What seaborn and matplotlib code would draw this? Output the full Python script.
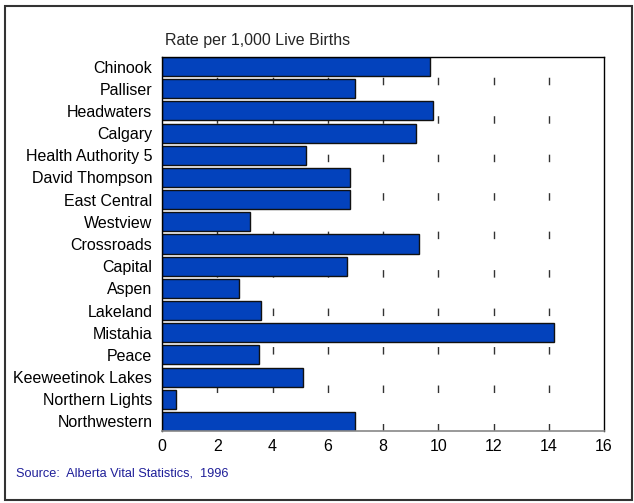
import numpy as np
import matplotlib
matplotlib.use("Agg")
import matplotlib.pyplot as plt
import seaborn as sns
from matplotlib.patches import Rectangle

regions = ["Chinook", "Palliser", "Headwaters", "Calgary", "Health Authority 5",
           "David Thompson", "East Central", "Westview", "Crossroads", "Capital",
           "Aspen", "Lakeland", "Mistahia", "Peace", "Keeweetinok Lakes",
           "Northern Lights", "Northwestern"]
rates = [9.7, 7.0, 9.8, 9.2, 5.2, 6.8, 6.8, 3.2, 9.3, 6.7,
         2.8, 3.6, 14.2, 3.5, 5.1, 0.5, 7.0]
xticks = [0, 2, 4, 6, 8, 10, 12, 14, 16]

sns.set_style("white")
plt.rcParams['font.family'] = ['Liberation Sans', 'DejaVu Sans']

fig = plt.figure(figsize=(6.34, 5.03), dpi=100)
ax = fig.add_axes([162/634, 1 - 431/503, (604 - 162)/634, (431 - 57)/503])

sns.barplot(x=rates, y=regions, orient="h", color="#0342BC", saturation=1,
            edgecolor="#111111", linewidth=1, width=0.86, ax=ax)

# dashed vertical grid
for xv in xticks[1:-1]:
    ax.axvline(xv, color="#333333", lw=1, linestyle=(0, (5.4, 22.3)), zorder=0)

ax.set_xlim(0, 16)
ax.set_ylim(16.43, -0.43)
ax.set_xticks(xticks)
ax.set_xticklabels([str(v) for v in xticks])
ax.tick_params(axis="both", length=0, labelsize=11.5, colors="black")
ax.tick_params(axis="y", pad=7)
ax.tick_params(axis="x", pad=6)
ax.set_xlabel("")
ax.set_ylabel("")
for side in ["top", "right", "left"]:
    ax.spines[side].set_visible(True)
    ax.spines[side].set_color("black")
    ax.spines[side].set_linewidth(1)
ax.spines["bottom"].set_color("#888888")
ax.spines["bottom"].set_linewidth(1.2)

fig.text(165/634, 1 - 41/503, "Rate per 1,000 Live Births", fontsize=11.5,
         ha="left", va="center")
fig.text(16/634, 1 - 474/503, "Source:  Alberta Vital Statistics,  1996",
         fontsize=9.2, color="#1F1F99", ha="left", va="center")

# outer frame
fig.patches.append(Rectangle((5/634, 3/503), 627/634, 494/503, transform=fig.transFigure,
                             fill=False, edgecolor="#333333", linewidth=1.5))

fig.savefig("out.png", dpi=100)
